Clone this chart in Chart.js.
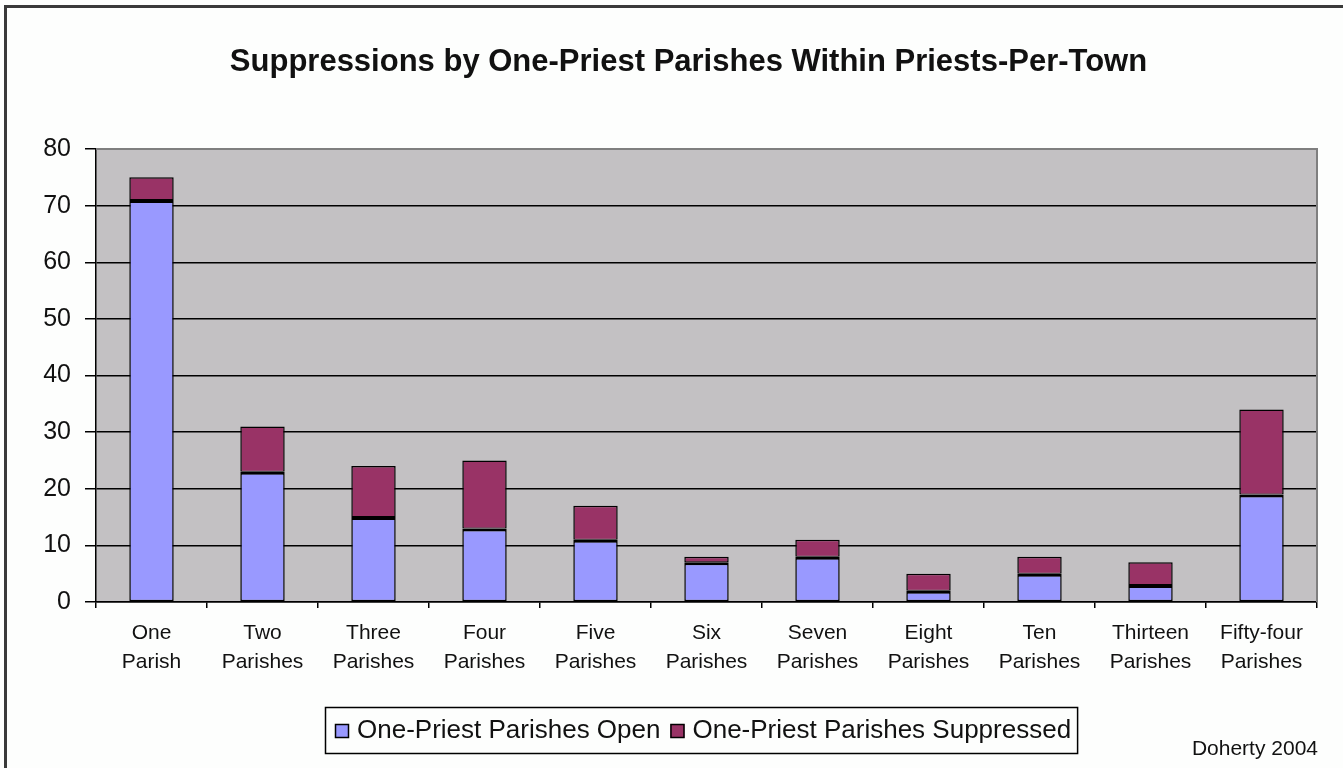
<!DOCTYPE html>
<html>
<head>
<meta charset="utf-8">
<script src="https://cdn.jsdelivr.net/npm/chart.js@4/dist/chart.umd.min.js"></script>
<style>
  html, body { margin: 0; padding: 0; background: #fdfefd; }
  #wrap { width: 1343px; height: 768px; position: relative; }
</style>
</head>
<body>
<div id="wrap"><canvas id="c" width="1343" height="768"></canvas></div>
<script>
// Town groups (by number of parishes in the town)
const categories = [
  ['One', 'Parish'], ['Two', 'Parishes'], ['Three', 'Parishes'], ['Four', 'Parishes'],
  ['Five', 'Parishes'], ['Six', 'Parishes'], ['Seven', 'Parishes'], ['Eight', 'Parishes'],
  ['Ten', 'Parishes'], ['Thirteen', 'Parishes'], ['Fifty-four', 'Parishes']
];
// One-priest parishes still open
const openParishes = [71, 23, 15, 13, 11, 7, 8, 2, 5, 3, 19];
// One-priest parishes suppressed
const suppressedParishes = [4, 8, 9, 12, 6, 1, 3, 3, 3, 4, 15];
const seriesNames = ['One-Priest Parishes Open', 'One-Priest Parishes Suppressed'];
const yTicks = [0, 10, 20, 30, 40, 50, 60, 70, 80];
const chartTitle = 'Suppressions by One-Priest Parishes Within Priests-Per-Town';

const FONT = '"Liberation Sans", Arial, sans-serif';

// Outer frame, grey plot background, title, legend box and author note
const decorations = {
  id: 'decorations',
  beforeDraw(chart) {
    const { ctx, chartArea: a } = chart;
    ctx.save();
    ctx.fillStyle = '#fdfefd';
    ctx.fillRect(0, 0, chart.width, chart.height);
    ctx.strokeStyle = '#3a3a3a';
    ctx.lineWidth = 3;
    ctx.strokeRect(5.5, 6.5, chart.width + 20, chart.height + 20);
    ctx.fillStyle = '#c3c1c3';
    ctx.fillRect(a.left, a.top, a.right - a.left, a.bottom - a.top);
    ctx.restore();
  },
  afterDraw(chart) {
    const { ctx, chartArea: a } = chart;
    ctx.save();
    // plot frame (right and top edges in grey)
    ctx.strokeStyle = '#7f7f7f';
    ctx.lineWidth = 2;
    ctx.beginPath();
    ctx.moveTo(a.left, a.top);
    ctx.lineTo(a.right, a.top);
    ctx.lineTo(a.right, a.bottom);
    ctx.stroke();

    // title
    ctx.font = 'bold 31px ' + FONT;
    ctx.fillStyle = '#111';
    ctx.textAlign = 'center';
    ctx.textBaseline = 'middle';
    ctx.fillText(chartTitle, (a.left + a.right) / 2 - 18, 62);

    // legend box
    ctx.font = '26px ' + FONT;
    ctx.textBaseline = 'middle';
    const sw = 14, gap = 8, itemGap = 10, pad = 10;
    const widths = seriesNames.map(n => ctx.measureText(n).width);
    const total = widths.reduce((s, w) => s + sw + gap + w, 0) + itemGap * (widths.length - 1) + pad * 2;
    const cx = (a.left + a.right) / 2 - 5;
    const bx = Math.round(cx - total / 2) + 2, by = 707, bh = 46;
    ctx.strokeStyle = '#000';
    ctx.lineWidth = 1.5;
    ctx.strokeRect(bx + 0.5, by + 0.5, total - 4, bh);
    let x = bx + pad;
    const my = by + bh / 2 + 1;
    chart.data.datasets.forEach((ds, i) => {
      ctx.fillStyle = ds.backgroundColor;
      ctx.fillRect(x, my - sw / 2, sw, sw);
      ctx.strokeStyle = '#000';
      ctx.lineWidth = 1.5;
      ctx.strokeRect(x + 0.5, my - sw / 2 + 0.5, sw - 1, sw - 1);
      ctx.fillStyle = '#111';
      ctx.textAlign = 'left';
      ctx.fillText(ds.label, x + sw + gap, my);
      x += sw + gap + widths[i] + itemGap;
    });

    // author note
    ctx.font = '21px ' + FONT;
    ctx.textAlign = 'right';
    ctx.fillStyle = '#111';
    ctx.fillText('Doherty 2004', 1318, 749);
    ctx.restore();
  }
};

new Chart(document.getElementById('c'), {
  type: 'bar',
  data: {
    labels: categories,
    datasets: [
      {
        label: seriesNames[0],
        data: openParishes,
        backgroundColor: '#9999ff',
        borderColor: '#000',
        borderWidth: { top: 3, left: 1.5, right: 1.5, bottom: 1.5 },
        borderSkipped: false
      },
      {
        label: seriesNames[1],
        data: suppressedParishes,
        backgroundColor: '#993366',
        borderColor: '#000',
        borderWidth: { top: 1.5, left: 1.5, right: 1.5, bottom: 1 },
        borderSkipped: false
      }
    ]
  },
  options: {
    responsive: false,
    animation: false,
    devicePixelRatio: 1,
    layout: { padding: { left: 0, right: 26, top: 149, bottom: 0 } },
    datasets: { bar: { categoryPercentage: 1.0, barPercentage: 0.4, inflateAmount: 0 } },
    plugins: {
      legend: { display: false },
      tooltip: { enabled: false },
      title: { display: false }
    },
    scales: {
      x: {
        stacked: true,
        offset: true,
        grid: {
          offset: true,
          drawOnChartArea: false,
          drawTicks: true,
          tickLength: 6,
          color: '#000',
          lineWidth: 1.5
        },
        border: { display: true, color: '#000', width: 1.5 },
        ticks: {
          color: '#111',
          padding: 11,
          maxRotation: 0,
          autoSkip: false,
          font: { family: FONT, size: 21, lineHeight: 1.38 }
        },
        afterFit(scale) { scale.height = 166; }
      },
      y: {
        stacked: true,
        min: yTicks[0],
        max: yTicks[yTicks.length - 1],
        afterBuildTicks(scale) { scale.ticks = yTicks.map(v => ({ value: v })); },
        grid: {
          color: '#000',
          lineWidth: 1.5,
          tickLength: 11
        },
        border: { display: true, color: '#000', width: 1.5 },
        ticks: {
          color: '#111',
          padding: 14,
          font: { family: FONT, size: 25 }
        },
        afterFit(scale) { scale.width = 96; }
      }
    }
  },
  plugins: [decorations]
});
</script>
</body>
</html>
